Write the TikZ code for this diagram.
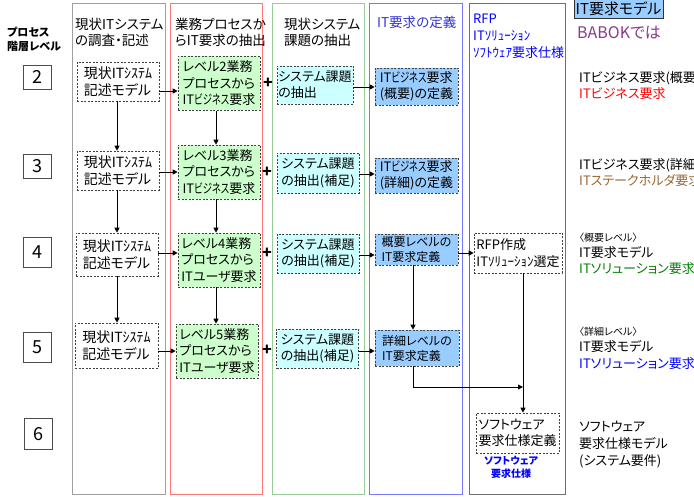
\documentclass[tikz,border=0pt]{standalone}
\usepackage{fontspec}
\usepackage{graphicx}
\setmainfont{Noto Sans CJK JP}[RawFeature={+palt}]
\usetikzlibrary{arrows.meta}
\definecolor{pgray}{HTML}{A0A0A0}
\definecolor{pred}{HTML}{FF7777}
\definecolor{pgreen}{HTML}{99CC99}
\definecolor{pblue}{HTML}{7777FF}
\definecolor{pdark}{HTML}{707070}
\definecolor{fgreen}{HTML}{CCFFCC}
\definecolor{fcyan}{HTML}{CCFFFF}
\definecolor{fblue}{HTML}{99CCFF}
\definecolor{tpurple}{HTML}{8B3A8B}
\definecolor{tbrown}{HTML}{996633}
\definecolor{tgreen}{HTML}{008000}
\definecolor{tblue}{HTML}{0000FF}
\definecolor{hblue}{HTML}{3333CC}
\newcommand{\nrw}[1]{\scalebox{0.72}[1]{#1}}
\begin{document}
\begin{tikzpicture}[x=1pt,y=-1pt,
  panel/.style={draw, line width=1.1pt, anchor=north west, minimum width=#1, minimum height=491, inner sep=0},
  box/.style={draw=black!75, dash pattern=on 2pt off 1.5pt, line width=0.6pt, align=left, inner sep=0pt,
     font=\fontsize{13}{16.5}\selectfont},
  cur/.style={box, fill=white, minimum width=82},
  grn/.style={box, fill=fgreen, minimum width=82, minimum height=54},
  cyn/.style={box, fill=fcyan, minimum width=82},
  blu/.style={box, fill=fblue, minimum width=83},
  arr/.style={-{Triangle[length=5pt,width=5pt]}, line width=0.9pt},
  lvl/.style={draw=black!70, line width=0.8pt, minimum width=28, font=\fontsize{18}{18}\selectfont},
  hdr/.style={anchor=base west, inner sep=0pt, font=\fontsize{13}{16}\selectfont},
  colh/.style={anchor=base west, inner sep=0pt, font=\fontsize{13.5}{16}\selectfont},
  small/.style={anchor=base west, inner sep=0pt, font=\fontsize{13}{15}\selectfont},
  tiny/.style={anchor=base west, inner sep=0pt, font=\fontsize{10}{12}\selectfont},
  plus/.style={inner sep=0pt, font=\fontsize{16}{16}\selectfont\bfseries}
]
\useasboundingbox (0,0) rectangle (694,497);

% panels
\node[panel=93, draw=pgray] (p1) at (72,3) {};
\node[panel=92, draw=pred] (p2) at (170,3) {};
\node[panel=92, draw=pgreen] (p3) at (272,3) {};
\node[panel=93, draw=pblue] (p4) at (369,3) {};
\node[panel=96, draw=pdark] (p5) at (469,3) {};

% left header
\node[tiny, font=\fontsize{11}{12}\selectfont\bfseries] (lh1) at (7,37) {プロセス};
\node[tiny, font=\fontsize{11}{12}\selectfont\bfseries] (lh2) at (7,51) {階層レベル};

% level boxes
\node[lvl, minimum height=24] (l2) at (37,77) {2};
\node[lvl, minimum height=24] (l3) at (37,166) {3};
\node[lvl, minimum height=30] (l4) at (37,252) {4};
\node[lvl, minimum height=30] (l5) at (37,347) {5};
\node[lvl, minimum height=31] (l6) at (38,434) {6};

% column headers
\node[colh] (h1a) at (75,30) {現状ITシステム};
\node[colh] (h1b) at (75,46) {の調査・記述};
\node[colh] (h2a) at (175,30) {業務プロセスか};
\node[colh] (h2b) at (175,46) {らIT要求の抽出};
\node[colh] (h3a) at (284,30) {現状システム};
\node[colh] (h3b) at (284,46) {課題の抽出};
\node[colh, text=hblue] (h4) at (377,28) {IT要求の定義};
\node[small, text=tblue] (h5a) at (473,24) {RFP};
\node[small, text=tblue] (h5b) at (473,41) {ITｿﾘｭｰｼｮﾝ};
\node[small, text=tblue] (h5c) at (473,58) {ｿﾌﾄｳｪｱ要求仕様};

% right legend
\node[draw=black!80, fill=fblue, line width=0.6pt, inner sep=0pt, minimum width=89, minimum height=19,
  font=\fontsize{15}{15}\selectfont] (model) at (618.5,8.5) {IT要求モデル};
\node[hdr, text=tpurple, font=\fontsize{16}{16}\selectfont] (babok) at (577,39) {BABOKでは};

\node[hdr] (r2a) at (579,83) {ITビジネス要求(概要)};
\node[hdr, text=red] (r2b) at (579,99) {ITビジネス要求};
\node[hdr] (r3a) at (579,170) {ITビジネス要求(詳細)};
\node[hdr, text=tbrown] (r3b) at (579,186) {ITステークホルダ要求};
\node[tiny] (r4a) at (579,242) {〈概要レベル〉};
\node[hdr] (r4b) at (579,258) {IT要求モデル};
\node[hdr, text=tgreen] (r4c) at (579,274) {ITソリューション要求};
\node[tiny] (r5a) at (579,336) {〈詳細レベル〉};
\node[hdr] (r5b) at (579,352) {IT要求モデル};
\node[hdr, text=tblue] (r5c) at (579,368) {ITソリューション要求};
\node[hdr] (r6a) at (579,431) {ソフトウェア};
\node[hdr] (r6b) at (579,448) {要求仕様モデル};
\node[hdr] (r6c) at (579,465) {(システム要件)};

% column 1
\tikzset{c1/.style={cur, font=\fontsize{14}{17}\selectfont}}
\node[c1, minimum height=39] (c1r2) at (118,81.5) {現状ITｼｽﾃﾑ\\記述モデル};
\node[c1, minimum height=39] (c1r3) at (118,170.5) {現状ITｼｽﾃﾑ\\記述モデル};
\node[c1, minimum height=43] (c1r4) at (117,254.5) {現状ITｼｽﾃﾑ\\記述モデル};
\node[c1, minimum height=45, minimum width=83] (c1r5) at (116.5,345.5) {現状ITｼｽﾃﾑ\\記述モデル};

% column 2
\node[grn] (c2r2) at (219,83.5) {レベル2業務\\プロセスから\\IT\nrw{ビジネス}要求};
\node[grn] (c2r3) at (219,172) {レベル3業務\\プロセスから\\IT\nrw{ビジネス}要求};
\node[grn] (c2r4) at (219,260) {レベル4業務\\プロセスから\\ITユーザ要求};
\node[grn] (c2r5) at (217,351) {レベル5業務\\プロセスから\\ITユーザ要求};

% column 3
\node[cyn, minimum height=38, minimum width=76] (c3r2) at (315,85) {システム課題\\の抽出};
\node[cyn, minimum height=40] (c3r3) at (318,173) {システム課題\\の抽出(補足)};
\node[cyn, minimum height=39] (c3r4) at (318,253.5) {システム課題\\の抽出(補足)};
\node[cyn, minimum height=39] (c3r5) at (317.5,348.5) {システム課題\\の抽出(補足)};

% column 4
\node[blu, minimum height=37] (c4r2) at (416.5,86.5) {IT\nrw{ビジネス}要求\\(概要)の定義};
\node[blu, minimum height=35] (c4r3) at (416.5,175.5) {IT\nrw{ビジネス}要求\\(詳細)の定義};
\node[blu, minimum height=31, font=\fontsize{12}{15}\selectfont] (c4r4) at (416.5,249.5) {概要レベルの\\IT要求定義};
\node[blu, minimum height=36, minimum width=84, font=\fontsize{12}{15}\selectfont] (c4r5) at (417,348) {詳細レベルの\\IT要求定義};

% column 5
\node[cur, minimum height=40, minimum width=88] (rfp) at (518,253) {RFP作成\\ITｿﾘｭｰｼｮﾝ選定};
\node[cur, minimum height=40, minimum width=83] (sw) at (517.5,433) {ソフトウェア\\要求仕様定義};
\node[anchor=north west, inner sep=0pt, align=center, text=tblue,
  font=\fontsize{10}{13}\selectfont\bfseries] (swl) at (484,456) {ソフトウェア\\要求仕様};

% plus signs
\node[plus] (pl2) at (268,83) {+};
\node[plus] (pl3) at (267,172) {+};
\node[plus] (pl4) at (267,253) {+};
\node[plus] (pl5) at (267,350) {+};

% coordinates
\coordinate (x1) at (117,0);
\coordinate (x2) at (216,0);
\coordinate (x4) at (413,0);
\coordinate (x5) at (523,0);
\coordinate (y2) at (0,91);
\coordinate (y3) at (0,172);
\coordinate (y4) at (0,253);
\coordinate (y5) at (0,351);
\coordinate (z2) at (0,87);
\coordinate (z3) at (0,174);
\coordinate (z4) at (0,255);
\coordinate (z5) at (0,351);
\coordinate (bend) at (413,387);

% col1 vertical
\draw[arr] (c1r2.south -| x1) -- (c1r3.north -| x1);
\draw[arr] (c1r3.south -| x1) -- (c1r4.north -| x1);
\draw[arr] (c1r4.south -| x1) -- (c1r5.north -| x1);
% col2 vertical
\draw[arr] (c2r2.south -| x2) -- (c2r3.north -| x2);
\draw[arr] (c2r3.south -| x2) -- (c2r4.north -| x2);
\draw[arr] (c2r4.south -| x2) -- (c2r5.north -| x2);
% col1 -> col2
\draw[arr] (c1r2.east |- y2) -- (c2r2.west |- y2);
\draw[arr] (c1r3.east |- y3) -- (c2r3.west |- y3);
\draw[arr] (c1r4.east |- y4) -- (c2r4.west |- y4);
\draw[arr] (c1r5.east |- y5) -- (c2r5.west |- y5);
% col3 -> col4
\draw[arr] (c3r2.east |- z2) -- (c4r2.west |- z2);
\draw[arr] (c3r3.east |- z3) -- (c4r3.west |- z3);
\draw[arr] (c3r4.east |- z4) -- (c4r4.west |- z4);
\draw[arr] (c3r5.east |- z5) -- (c4r5.west |- z5);
% col4 / col5
\draw[arr] (c4r4.east |- y4) -- (rfp.west |- y4);
\draw[arr] (c4r4.south -| x4) -- (c4r5.north -| x4);
\draw[arr] (c4r5.south -| x4) -- (bend) -- (bend -| x5);
\draw[arr] (rfp.south -| x5) -- (sw.north -| x5);
\end{tikzpicture}
\end{document}
